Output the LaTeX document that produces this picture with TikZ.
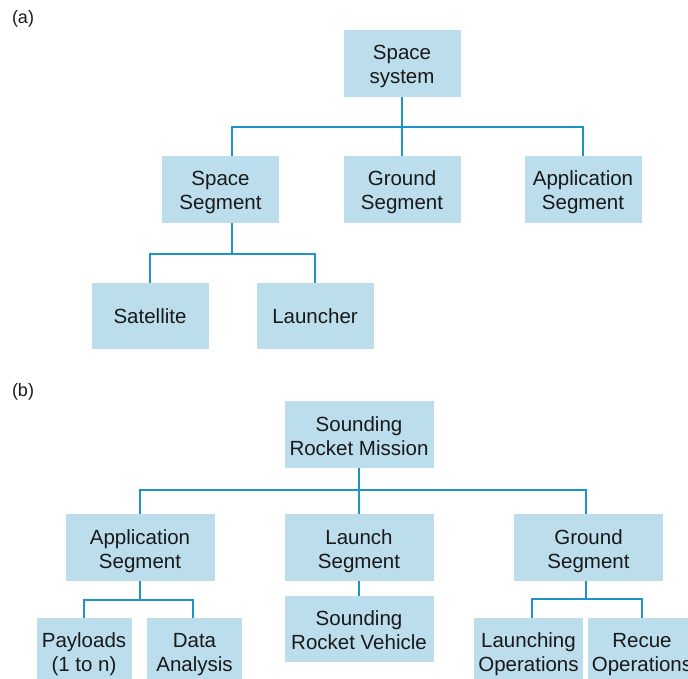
\documentclass[tikz,border=0pt]{standalone}
\usepackage{fontspec}
\setmainfont{Liberation Sans}
\definecolor{boxfill}{RGB}{188,221,236}
\definecolor{linec}{RGB}{30,148,196}
\definecolor{txt}{RGB}{25,25,25}
\begin{document}
\begin{tikzpicture}[x=1pt,y=-1pt,
  blk/.style={fill=boxfill,draw=none,inner sep=0pt,align=center,text=txt,
    font=\fontsize{20.5}{24}\selectfont,minimum height=67pt},
  two/.style={text height=45pt,text depth=4pt},
  w117/.style={blk,two,minimum width=117pt},
  w149/.style={blk,two,minimum width=149pt},
  w95/.style={blk,two,minimum width=95pt},
  w109/.style={blk,two,minimum width=109pt},
  conn/.style={draw=linec,line width=1.6pt},
  lbl/.style={inner sep=0pt,text=txt,font=\fontsize{18}{20}\selectfont}]
\useasboundingbox (0,0) rectangle (688,679);
\clip (0,0) rectangle (688,679);
% (a)
\node[lbl] (la) at (23,19) {(a)};
\node[w117] (ss) at (402,63.5) {Space\\system};
\node[w117] (sseg) at (220.5,189.5) {Space\\Segment};
\node[w117] (gseg) at (402,189.5) {Ground\\Segment};
\node[w117] (aseg) at (583,189.5) {Application\\Segment};
\node[blk,minimum width=117pt,minimum height=66pt] (sat) at (150,316) {Satellite};
\node[blk,minimum width=117pt,minimum height=66pt] (lau) at (315,316) {Launcher};
\coordinate (bara) at (0,127);
\coordinate (barb) at (0,254);
\draw[conn] (ss.south) -- (ss.south |- bara);
\draw[conn] ([xshift=11.5pt]sseg.north) |- (bara -| aseg.north) -- (aseg.north);
\draw[conn] (gseg.north) -- (gseg.north |- bara);
\draw[conn] ([xshift=11.5pt]sseg.south) -- ([xshift=11.5pt]sseg.south |- barb);
\draw[conn] (sat.north) |- (barb -| lau.north) -- (lau.north);
% (b)
\node[lbl] (lb) at (23,392) {(b)};
\node[w149] (srm) at (359,434.5) {Sounding\\Rocket Mission};
\node[w149] (apps) at (140,547.5) {Application\\Segment};
\node[w149] (lseg) at (359,547.5) {Launch\\Segment};
\node[w149] (gseg2) at (588.5,547.5) {Ground\\Segment};
\node[w149,minimum height=66pt] (srv) at (359,629) {Sounding\\Rocket Vehicle};
\node[w95,minimum height=66pt] (pay) at (84,651) {Payloads\\(1 to n)};
\node[w95,minimum height=66pt] (da) at (194.5,651) {Data\\Analysis};
\node[w109,minimum height=66pt] (lops) at (528.5,651) {Launching\\Operations};
\node[w109,minimum height=66pt] (rops) at (642,651) {Recue\\Operations};
\coordinate (barc) at (0,490);
\coordinate (bard) at (0,600);
\coordinate (bare) at (0,599);
\draw[conn] (srm.south) -- (srm.south |- barc);
\draw[conn] (apps.north) |- ([xshift=-2.5pt]barc -| gseg2.north) -- ([xshift=-2.5pt]gseg2.north);
\draw[conn] (lseg.north) -- (lseg.north |- barc);
\draw[conn] (lseg.south) -- (srv.north);
\draw[conn] (apps.south) -- (apps.south |- bard);
\draw[conn] (pay.north) |- ([xshift=-1.5pt]bard -| da.north) -- ([xshift=-1.5pt]da.north);
\draw[conn] ([xshift=-2.5pt]gseg2.south) -- ([xshift=-2.5pt]gseg2.south |- bare);
\draw[conn] ([xshift=3.5pt]lops.north) |- (bare -| rops.north) -- (rops.north);
\end{tikzpicture}
\end{document}
